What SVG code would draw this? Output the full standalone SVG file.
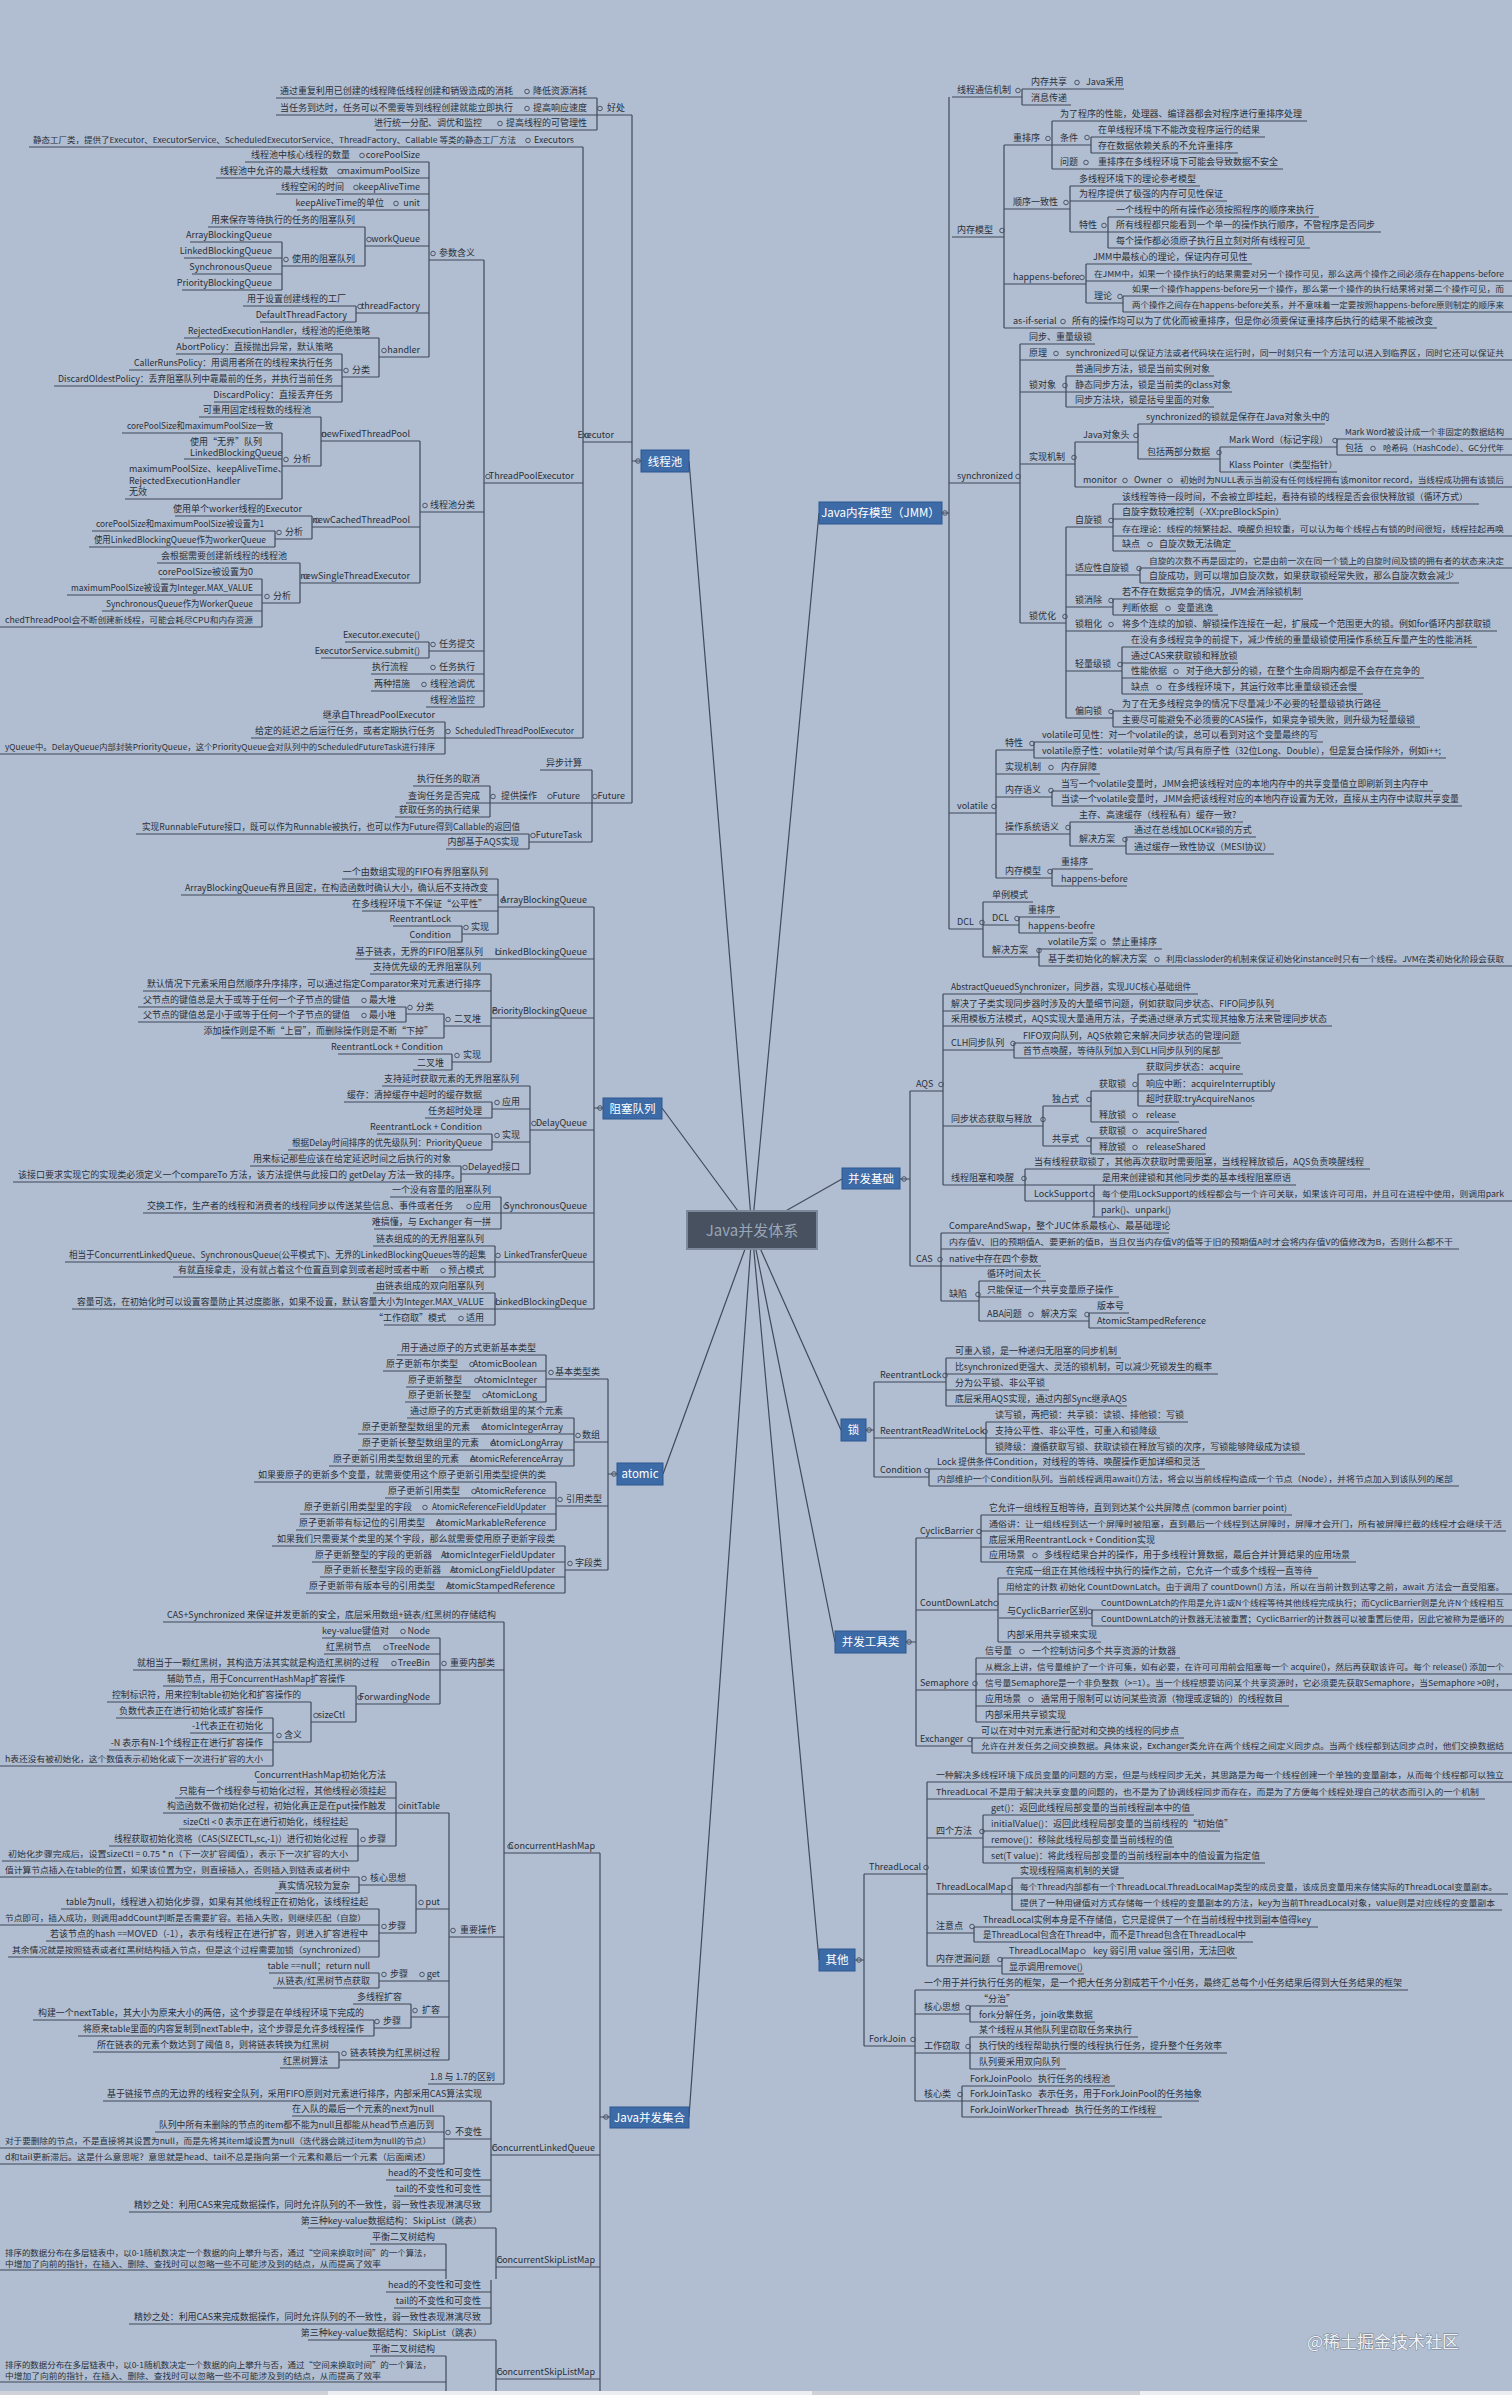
<svg xmlns="http://www.w3.org/2000/svg" width="1512" height="2395" viewBox="0 0 1512 2395">
<style>
.t{font-family:"Noto Sans CJK SC","Noto Sans",sans-serif;font-size:9px;fill:#28303b}
.s{font-size:8.2px}
.x{font-size:7.8px}
.e{text-anchor:end}
.c{fill:none;stroke:#3f4a5a;stroke-width:.9}
.ln{fill:none;stroke:#3f4a5a;stroke-width:1.2}
.nb{fill:#3d6ba8;stroke:#2c5890;stroke-width:1}
.nt{font-family:"Noto Sans CJK SC",sans-serif;font-size:11.5px;fill:#fff;text-anchor:middle}
</style>
<rect width="1512" height="2395" fill="#b1bdd0"/>
<g id="connectors">
<path class="ln" d="M689 461L752 1230M662 1108L752 1230M663 1474L752 1230M689 2117L752 1230M819 513L752 1230M842 1179L752 1230M841 1430L752 1230M835 1642L752 1230M819 1960L752 1230"/>
<path class="ln" d="M276 98H597M276 115H632M376 130H597M597 98V130M29 147H583M245 162H429M216 178H429M276 194H429M297 210H429M208 227H365M190 242H282M365 246H429M184 258H282M282 266H365M192 274H282M182 290H282M282 242V290M365 227V266M243 306H356M356 313H429M260 322H356M356 306V322M184 338H379M176 354H342M379 357H429M129 370H342M342 377H379M54 386H342M214 402H342M342 354V402M379 338V377M429 260H484M429 162V357M199 417H321M122 433H282M321 441H420M184 459H282M282 466H321M125 499H282M282 433V499M321 417V466M175 516H312M312 527H420M92 531H275M275 539H312M89 547H275M275 531V547M312 516V539M157 563H300M160 579H262M300 583H420M67 595H262M262 603H300M102 611H262M0 627H262M262 579V627M300 563V603M420 512H484M420 441V583M345 642H429M429 651H484M321 658H429M429 642V658M371 674H484M371 691H484M426 707H484M484 483H583M484 260V707M328 722H445M251 738H583M0 754H445M445 722V754M583 442H632M583 147V738M540 770H592M413 786H490M406 803H632M395 817H490M490 786V817M136 834H529M529 842H592M446 849H529M529 834V849M592 770V842M632 115V803M632 461H641"/>
<path class="ln" d="M342 879H498M181 895H498M498 907H594M362 911H498M393 926H462M462 934H498M410 942H462M462 926V942M498 879V934M355 959H594M370 974H491M143 991H491M138 1007H406M406 1014H444M491 1018H594M138 1022H406M444 1026H491M221 1038H444M338 1054H452M452 1062H491M413 1070H452M406 1007V1022M444 1014V1038M452 1054V1070M491 974V1062M382 1086H530M344 1102H492M492 1109H530M425 1118H492M530 1130H594M377 1134H492M492 1142H530M288 1150H492M250 1166H461M461 1174H530M13 1182H461M492 1102V1118M492 1134V1150M461 1166V1182M530 1086V1174M390 1197H501M143 1213H594M374 1229H501M501 1197V1229M373 1246H495M65 1262H594M173 1277H495M495 1246V1277M373 1293H495M72 1309H594M384 1325H495M495 1293V1325M594 907V1309M594 1108H603"/>
<path class="ln" d="M397 1355H546M383 1371H546M546 1379H608M406 1387H546M405 1402H546M546 1355V1402M407 1418H574M358 1434H574M574 1442H608M358 1450H574M329 1466H574M574 1418V1466M254 1482H556M385 1498H556M556 1506H608M300 1514H556M296 1530H556M556 1482V1530M272 1546H565M312 1562H565M565 1570H608M320 1577H565M306 1593H565M565 1546V1593M608 1379V1570M608 1474H617"/>
<path class="ln" d="M163 1622H504M322 1638H440M324 1654H440M133 1670H504M163 1686H356M107 1702H311M356 1704H440M116 1718H273M311 1722H356M190 1733H273M273 1742H311M109 1750H273M0 1766H273M273 1718V1766M311 1702V1742M356 1686V1722M440 1638V1704M257 1782H396M175 1798H396M163 1813H449M179 1829H358M109 1846H396M2 1861H358M358 1829V1861M396 1782V1846M0 1877H359M359 1885H416M275 1893H359M359 1877V1893M61 1909H379M416 1909H449M0 1925H379M379 1933H416M46 1941H379M8 1957H379M379 1909V1957M416 1885V1933M449 1937H504M269 1973H379M379 1981H449M273 1988H379M379 1973V1988M353 2004H411M411 2017H449M33 2020H374M374 2028H411M78 2036H374M374 2020V2036M411 2004V2028M93 2052H339M339 2060H449M280 2068H339M339 2052V2068M449 1813V2060M428 2084H504M504 1853H600M504 1622V2084M103 2101H491M292 2116H444M155 2132H444M444 2139H491M0 2148H444M0 2164H444M444 2116V2164M491 2155H600M386 2180H491M394 2196H491M129 2212H491M491 2101V2212M308 2228H496M370 2244H446M0 2270H446M446 2244V2280M496 2267H600M496 2228V2280M600 1853V2280M600 2117H610"/>
<path class="ln" d="M1022 89H1124M952 97H1022M1022 105H1071M1022 89V105M1052 121H1307M1091 137H1265M1004 145H1091M1091 153H1238M1091 137V153M1052 169H1283M1052 121V169M1070 186H1200M1070 201H1227M1004 209H1070M1108 217H1319M1070 232H1381M1108 248H1310M1108 217V248M1070 186V232M952 237H1004M1086 264H1252M1086 281H1512M1004 284H1086M1123 296H1512M1086 303H1123M1123 312H1512M1123 296V312M1086 264V303M1004 328H1437M1004 145V328M1020 344H1095M1020 360H1512M1066 376H1214M1020 392H1232M1066 407H1214M1066 376V407M1138 424H1325M1337 439H1512M1075 442H1138M1220 447H1337M1337 455H1512M1337 439V455M1138 459H1220M1020 464H1075M1220 472H1337M1220 447V472M1138 424V459M949 483H1020M1075 487H1512M1075 442V487M1113 504H1479M1113 519H1281M1066 527H1113M1113 536H1512M1113 551H1236M1113 504V551M1140 568H1512M1066 575H1140M1140 583H1459M1140 568V583M1113 599H1303M1066 607H1113M1113 615H1218M1113 599V615M1020 623H1066M1066 631H1497M1122 647H1477M1122 663H1238M1066 671H1122M1122 678H1424M1122 694H1363M1122 647V694M1113 711H1388M1066 718H1113M1113 727H1420M1113 711V727M1066 527V718M1020 344V623M1034 742H1323M996 750H1034M1034 758H1446M1034 742V758M996 774H1100M1052 791H1433M996 797H1052M1052 806H1462M1052 791V806M949 813H996M1070 822H1243M996 834H1070M1126 837H1256M1070 846H1126M1126 854H1274M1126 837V854M1070 822V846M1052 869H1093M996 878H1052M1052 886H1127M1052 869V886M996 750V878M983 902H1033M1019 917H1060M983 925H1019M949 929H983M1019 933H1093M1019 917V933M1039 949H1162M983 957H1039M1039 966H1512M1039 949V966M983 902V957M949 97V929M942 513H949"/>
<path class="ln" d="M943 994H1198M943 1011H1280M943 1026H1332M1014 1043H1241M943 1050H1014M1014 1058H1223M1014 1043V1058M1138 1074H1243M910 1091H943M1091 1091H1272M1043 1106H1091M1138 1106H1252M1138 1074V1106M1091 1122H1179M1091 1091V1122M943 1126H1043M1091 1138H1206M1043 1146H1091M1091 1154H1206M1091 1138V1154M1043 1106V1146M1025 1169H1370M943 1185H1296M1025 1201H1512M1092 1217H1169M1094 1185V1217M1025 1169V1201M943 994V1185M941 1233H1169M941 1249H1459M910 1266H1041M979 1281H1046M979 1297H1119M941 1301H979M1089 1313H1129M979 1321H1089M1089 1328H1200M1089 1313V1328M979 1281V1321M941 1233V1301M910 1091V1266M900 1179H910"/>
<path class="ln" d="M946 1358H1121M946 1374H1218M874 1382H946M946 1390H1049M946 1406H1127M946 1358V1406M986 1422H1188M874 1438H1160M986 1454H1305M986 1422V1454M929 1469H1205M874 1477H929M929 1486H1459M929 1469V1486M874 1382V1477M866 1430H874"/>
<path class="ln" d="M981 1515H1292M981 1531H1506M916 1538H981M981 1547H1149M981 1562H1356M981 1515V1562M998 1578H1318M998 1594H1512M916 1610H998M1092 1610H1512M999 1618H1092M1092 1626H1512M1092 1610V1626M998 1642H1101M998 1578V1642M976 1658H1180M976 1674H1512M916 1690H1512M976 1706H1289M976 1722H1070M976 1658V1722M972 1738H1184M916 1746H972M972 1753H1512M972 1738V1753M916 1538V1746M906 1642H916"/>
<path class="ln" d="M927 1782H1512M927 1799H1485M983 1815H1194M983 1831H1220M927 1838H983M983 1847H1174M983 1863H1265M983 1815V1863M864 1874H927M1012 1878H1124M927 1894H1508M1012 1910H1502M1012 1878V1910M974 1927H1318M927 1933H974M974 1942H1253M974 1927V1942M1002 1958H1237M927 1966H1002M1002 1974H1084M1002 1958V1974M927 1782V1966M915 1990H1408M970 2006H1008M915 2014H970M970 2022H1095M970 2006V2022M970 2037H1138M864 2046H915M915 2053H1227M970 2069H1066M970 2037V2069M962 2086H1115M915 2101H1199M962 2117H1162M962 2086V2117M915 1990V2101M864 1874V2046M855 1960H864"/>
</g>
<g id="branch-threadpool">
<text class="t e" x="513" y="94" textLength="233" lengthAdjust="spacingAndGlyphs">通过重复利用已创建的线程降低线程创建和销毁造成的消耗</text>
<text class="t e" x="587" y="94">降低资源消耗</text>
<text class="t e" x="513" y="111" textLength="233" lengthAdjust="spacingAndGlyphs">当任务到达时，任务可以不需要等到线程创建就能立即执行</text>
<text class="t e" x="587" y="111">提高响应速度</text>
<text class="t e" x="625" y="111">好处</text>
<text class="t e" x="482" y="126">进行统一分配、调优和监控</text>
<text class="t e" x="587" y="126">提高线程的可管理性</text>
<text class="t x e" x="516" y="143" textLength="483" lengthAdjust="spacingAndGlyphs">静态工厂类，提供了Executor、ExecutorService、ScheduledExecutorService、ThreadFactory、Callable 等类的静态工厂方法</text>
<text class="t e" x="574" y="143" textLength="40" lengthAdjust="spacingAndGlyphs">Executors</text>
<text class="t e" x="350" y="158">线程池中核心线程的数量</text>
<text class="t e" x="420" y="158">corePoolSize</text>
<text class="t e" x="328" y="174">线程池中允许的最大线程数</text>
<text class="t e" x="420" y="174">maximumPoolSize</text>
<text class="t e" x="344" y="190">线程空闲的时间</text>
<text class="t e" x="420" y="190">keepAliveTime</text>
<text class="t e" x="384" y="206">keepAliveTime的单位</text>
<text class="t e" x="420" y="206">unit</text>
<text class="t e" x="355" y="223">用来保存等待执行的任务的阻塞队列</text>
<text class="t e" x="272" y="238">ArrayBlockingQueue</text>
<text class="t e" x="420" y="242">workQueue</text>
<text class="t e" x="272" y="254">LinkedBlockingQueue</text>
<text class="t e" x="355" y="262">使用的阻塞队列</text>
<text class="t e" x="272" y="270">SynchronousQueue</text>
<text class="t e" x="272" y="286">PriorityBlockingQueue</text>
<text class="t e" x="346" y="302">用于设置创建线程的工厂</text>
<text class="t e" x="420" y="309">threadFactory</text>
<text class="t e" x="347" y="318">DefaultThreadFactory</text>
<text class="t e" x="370" y="334" textLength="182" lengthAdjust="spacingAndGlyphs">RejectedExecutionHandler，线程池的拒绝策略</text>
<text class="t e" x="333" y="350">AbortPolicy：直接抛出异常，默认策略</text>
<text class="t e" x="420" y="353">handler</text>
<text class="t e" x="333" y="366" textLength="199" lengthAdjust="spacingAndGlyphs">CallerRunsPolicy：用调用者所在的线程来执行任务</text>
<text class="t e" x="370" y="373">分类</text>
<text class="t e" x="333" y="382" textLength="275" lengthAdjust="spacingAndGlyphs">DiscardOldestPolicy：丢弃阻塞队列中靠最前的任务，并执行当前任务</text>
<text class="t e" x="333" y="398">DiscardPolicy：直接丢弃任务</text>
<text class="t e" x="475" y="256">参数含义</text>
<text class="t e" x="311" y="413">可重用固定线程数的线程池</text>
<text class="t e" x="273" y="429" textLength="146" lengthAdjust="spacingAndGlyphs">corePoolSize和maximumPoolSize一致</text>
<text class="t e" x="410" y="437">newFixedThreadPool</text>
<text class="t" x="190" y="445">使用“无界”队列</text>
<text class="t" x="190" y="456">LinkedBlockingQueue</text>
<text class="t e" x="311" y="462">分析</text>
<text class="t" x="129" y="472">maximumPoolSize、keepAliveTime、</text>
<text class="t" x="129" y="484">RejectedExecutionHandler</text>
<text class="t" x="129" y="495">无效</text>
<text class="t e" x="302" y="512">使用单个worker线程的Executor</text>
<text class="t e" x="410" y="523">newCachedThreadPool</text>
<text class="t e" x="264" y="527" textLength="168" lengthAdjust="spacingAndGlyphs">corePoolSize和maximumPoolSize被设置为1</text>
<text class="t e" x="303" y="535">分析</text>
<text class="t e" x="266" y="543" textLength="172" lengthAdjust="spacingAndGlyphs">使用LinkedBlockingQueue作为workerQueue</text>
<text class="t e" x="287" y="559">会根据需要创建新线程的线程池</text>
<text class="t e" x="253" y="575">corePoolSize被设置为0</text>
<text class="t e" x="410" y="579">newSingleThreadExecutor</text>
<text class="t e" x="253" y="591" textLength="182" lengthAdjust="spacingAndGlyphs">maximumPoolSize被设置为Integer.MAX_VALUE</text>
<text class="t e" x="291" y="599">分析</text>
<text class="t e" x="253" y="607" textLength="147" lengthAdjust="spacingAndGlyphs">SynchronousQueue作为WorkerQueue</text>
<text class="t s e" x="253" y="623" textLength="248" lengthAdjust="spacingAndGlyphs">chedThreadPool会不断创建新线程，可能会耗尽CPU和内存资源</text>
<text class="t e" x="475" y="508">线程池分类</text>
<text class="t e" x="420" y="638">Executor.execute()</text>
<text class="t e" x="475" y="647">任务提交</text>
<text class="t e" x="420" y="654">ExecutorService.submit()</text>
<text class="t e" x="408" y="670">执行流程</text>
<text class="t e" x="475" y="670">任务执行</text>
<text class="t e" x="410" y="687">两种措施</text>
<text class="t e" x="475" y="687">线程池调优</text>
<text class="t e" x="475" y="703">线程池监控</text>
<text class="t e" x="574" y="479">ThreadPoolExecutor</text>
<text class="t e" x="435" y="718">继承自ThreadPoolExecutor</text>
<text class="t e" x="435" y="734">给定的延迟之后运行任务，或者定期执行任务</text>
<text class="t e" x="574" y="734" textLength="119" lengthAdjust="spacingAndGlyphs">ScheduledThreadPoolExecutor</text>
<text class="t s e" x="435" y="750" textLength="430" lengthAdjust="spacingAndGlyphs">yQueue中。DelayQueue内部封装PriorityQueue，这个PriorityQueue会对队列中的ScheduledFutureTask进行排序</text>
<text class="t e" x="614" y="438">Executor</text>
<text class="t e" x="582" y="766">异步计算</text>
<text class="t e" x="480" y="782">执行任务的取消</text>
<text class="t e" x="480" y="799">查询任务是否完成</text>
<text class="t e" x="537" y="799">提供操作</text>
<text class="t e" x="580" y="799">Future</text>
<text class="t e" x="625" y="799">Future</text>
<text class="t e" x="480" y="813">获取任务的执行结果</text>
<text class="t e" x="520" y="830" textLength="378" lengthAdjust="spacingAndGlyphs">实现RunnableFuture接口，既可以作为Runnable被执行，也可以作为Future得到Callable的返回值</text>
<text class="t e" x="582" y="838">FutureTask</text>
<text class="t e" x="519" y="845">内部基于AQS实现</text>
<circle class="c" cx="527" cy="91.5" r="2.3"/><circle class="c" cx="527" cy="108.5" r="2.3"/><circle class="c" cx="600" cy="108.5" r="2.3"/><circle class="c" cx="500" cy="123.5" r="2.3"/><circle class="c" cx="528" cy="140.5" r="2.3"/><circle class="c" cx="362" cy="155.5" r="2.3"/><circle class="c" cx="340" cy="171.5" r="2.3"/><circle class="c" cx="356" cy="187.5" r="2.3"/><circle class="c" cx="396" cy="203.5" r="2.3"/><circle class="c" cx="369" cy="239.5" r="2.3"/><circle class="c" cx="286" cy="259.5" r="2.3"/><circle class="c" cx="360" cy="306.5" r="2.3"/><circle class="c" cx="384" cy="350.5" r="2.3"/><circle class="c" cx="346" cy="370.5" r="2.3"/><circle class="c" cx="433" cy="253.5" r="2.3"/><circle class="c" cx="324" cy="434.5" r="2.3"/><circle class="c" cx="286" cy="459.5" r="2.3"/><circle class="c" cx="317" cy="520.5" r="2.3"/><circle class="c" cx="279" cy="532.5" r="2.3"/><circle class="c" cx="306" cy="576.5" r="2.3"/><circle class="c" cx="267" cy="596.5" r="2.3"/><circle class="c" cx="425" cy="505.5" r="2.3"/><circle class="c" cx="433" cy="644.5" r="2.3"/><circle class="c" cx="433" cy="667.5" r="2.3"/><circle class="c" cx="424" cy="684.5" r="2.3"/><circle class="c" cx="488" cy="476.5" r="2.3"/><circle class="c" cx="448" cy="731.5" r="2.3"/><circle class="c" cx="587" cy="435.5" r="2.3"/><circle class="c" cx="493" cy="796.5" r="2.3"/><circle class="c" cx="550" cy="796.5" r="2.3"/><circle class="c" cx="595" cy="796.5" r="2.3"/><circle class="c" cx="533" cy="835.5" r="2.3"/>
</g>
<g id="branch-queue">
<text class="t e" x="488" y="875">一个由数组实现的FIFO有界阻塞队列</text>
<text class="t e" x="488" y="891" textLength="303" lengthAdjust="spacingAndGlyphs">ArrayBlockingQueue有界且固定，在构造函数时确认大小，确认后不支持改变</text>
<text class="t e" x="587" y="903">ArrayBlockingQueue</text>
<text class="t e" x="487" y="907">在多线程环境下不保证“公平性”</text>
<text class="t e" x="451" y="922">ReentrantLock</text>
<text class="t e" x="489" y="930">实现</text>
<text class="t e" x="451" y="938">Condition</text>
<text class="t e" x="483" y="955">基于链表，无界的FIFO阻塞队列</text>
<text class="t e" x="587" y="955">LinkedBlockingQueue</text>
<text class="t e" x="481" y="970">支持优先级的无界阻塞队列</text>
<text class="t e" x="481" y="987" textLength="334" lengthAdjust="spacingAndGlyphs">默认情况下元素采用自然顺序升序排序，可以通过指定Comparator来对元素进行排序</text>
<text class="t e" x="350" y="1003">父节点的键值总是大于或等于任何一个子节点的键值</text>
<text class="t e" x="396" y="1003">最大堆</text>
<text class="t e" x="434" y="1010">分类</text>
<text class="t e" x="587" y="1014">PriorityBlockingQueue</text>
<text class="t e" x="350" y="1018">父节点的键值总是小于或等于任何一个子节点的键值</text>
<text class="t e" x="396" y="1018">最小堆</text>
<text class="t e" x="481" y="1022">二叉堆</text>
<text class="t e" x="433" y="1034">添加操作则是不断“上冒”，而删除操作则是不断“下掉”</text>
<text class="t e" x="443" y="1050">ReentrantLock + Condition</text>
<text class="t e" x="481" y="1058">实现</text>
<text class="t e" x="444" y="1066">二叉堆</text>
<text class="t e" x="519" y="1082">支持延时获取元素的无界阻塞队列</text>
<text class="t e" x="482" y="1098">缓存：清掉缓存中超时的缓存数据</text>
<text class="t e" x="520" y="1105">应用</text>
<text class="t e" x="482" y="1114">任务超时处理</text>
<text class="t e" x="587" y="1126">DelayQueue</text>
<text class="t e" x="482" y="1130">ReentrantLock + Condition</text>
<text class="t e" x="520" y="1138">实现</text>
<text class="t e" x="482" y="1146" textLength="190" lengthAdjust="spacingAndGlyphs">根据Delay时间排序的优先级队列：PriorityQueue</text>
<text class="t e" x="451" y="1162">用来标记那些应该在给定延迟时间之后执行的对象</text>
<text class="t e" x="520" y="1170">Delayed接口</text>
<text class="t e" x="460" y="1178" textLength="442" lengthAdjust="spacingAndGlyphs">该接口要求实现它的实现类必须定义一个compareTo 方法，该方法提供与此接口的 getDelay 方法一致的排序。</text>
<text class="t e" x="491" y="1193">一个没有容量的阻塞队列</text>
<text class="t e" x="453" y="1209" textLength="306" lengthAdjust="spacingAndGlyphs">交换工作，生产者的线程和消费者的线程同步以传送某些信息、事件或者任务</text>
<text class="t e" x="491" y="1209">应用</text>
<text class="t e" x="587" y="1209">SynchronousQueue</text>
<text class="t e" x="491" y="1225">难搞懂，与 Exchanger 有一拼</text>
<text class="t e" x="484" y="1242">链表组成的的无界阻塞队列</text>
<text class="t e" x="486" y="1258" textLength="417" lengthAdjust="spacingAndGlyphs">相当于ConcurrentLinkedQueue、SynchronousQueue(公平模式下)、无界的LinkedBlockingQueues等的超集</text>
<text class="t e" x="587" y="1258" textLength="83" lengthAdjust="spacingAndGlyphs">LinkedTransferQueue</text>
<text class="t e" x="429" y="1273" textLength="251" lengthAdjust="spacingAndGlyphs">有就直接拿走，没有就占着这个位置直到拿到或者超时或者中断</text>
<text class="t e" x="484" y="1273">预占模式</text>
<text class="t e" x="484" y="1289">由链表组成的双向阻塞队列</text>
<text class="t e" x="484" y="1305" textLength="407" lengthAdjust="spacingAndGlyphs">容量可选，在初始化时可以设置容量防止其过度膨胀，如果不设置，默认容量大小为Integer.MAX_VALUE</text>
<text class="t e" x="587" y="1305">LinkedBlockingDeque</text>
<text class="t e" x="446" y="1321">“工作窃取”模式</text>
<text class="t e" x="484" y="1321">适用</text>
<circle class="c" cx="503" cy="900.5" r="2.3"/><circle class="c" cx="466" cy="927.5" r="2.3"/><circle class="c" cx="498" cy="952.5" r="2.3"/><circle class="c" cx="364" cy="1000.5" r="2.3"/><circle class="c" cx="410" cy="1007.5" r="2.3"/><circle class="c" cx="495" cy="1011.5" r="2.3"/><circle class="c" cx="364" cy="1015.5" r="2.3"/><circle class="c" cx="448" cy="1019.5" r="2.3"/><circle class="c" cx="457" cy="1055.5" r="2.3"/><circle class="c" cx="497" cy="1102.5" r="2.3"/><circle class="c" cx="534" cy="1123.5" r="2.3"/><circle class="c" cx="497" cy="1135.5" r="2.3"/><circle class="c" cx="465" cy="1167.5" r="2.3"/><circle class="c" cx="469" cy="1206.5" r="2.3"/><circle class="c" cx="506" cy="1206.5" r="2.3"/><circle class="c" cx="498" cy="1255.5" r="2.3"/><circle class="c" cx="443" cy="1270.5" r="2.3"/><circle class="c" cx="498" cy="1302.5" r="2.3"/><circle class="c" cx="461" cy="1318.5" r="2.3"/>
</g>
<g id="branch-atomic">
<text class="t e" x="536" y="1351">用于通过原子的方式更新基本类型</text>
<text class="t e" x="458" y="1367">原子更新布尔类型</text>
<text class="t e" x="537" y="1367">AtomicBoolean</text>
<text class="t e" x="600" y="1375">基本类型类</text>
<text class="t e" x="462" y="1383">原子更新整型</text>
<text class="t e" x="537" y="1383">AtomicInteger</text>
<text class="t e" x="471" y="1398">原子更新长整型</text>
<text class="t e" x="537" y="1398">AtomicLong</text>
<text class="t e" x="563" y="1414">通过原子的方式更新数组里的某个元素</text>
<text class="t e" x="470" y="1430">原子更新整型数组里的元素</text>
<text class="t e" x="563" y="1430">AtomicIntegerArray</text>
<text class="t e" x="600" y="1438">数组</text>
<text class="t e" x="479" y="1446">原子更新长整型数组里的元素</text>
<text class="t e" x="563" y="1446">AtomicLongArray</text>
<text class="t e" x="459" y="1462">原子更新引用类型数组里的元素</text>
<text class="t e" x="563" y="1462">AtomicReferenceArray</text>
<text class="t e" x="546" y="1478" textLength="288" lengthAdjust="spacingAndGlyphs">如果要原子的更新多个变量，就需要使用这个原子更新引用类型提供的类</text>
<text class="t e" x="460" y="1494">原子更新引用类型</text>
<text class="t e" x="546" y="1494">AtomicReference</text>
<text class="t e" x="602" y="1502">引用类型</text>
<text class="t e" x="412" y="1510">原子更新引用类型里的字段</text>
<text class="t e" x="546" y="1510" textLength="114" lengthAdjust="spacingAndGlyphs">AtomicReferenceFieldUpdater</text>
<text class="t e" x="425" y="1526">原子更新带有标记位的引用类型</text>
<text class="t e" x="546" y="1526">AtomicMarkableReference</text>
<text class="t e" x="555" y="1542" textLength="278" lengthAdjust="spacingAndGlyphs">如果我们只需要某个类里的某个字段，那么就需要使用原子更新字段类</text>
<text class="t e" x="432" y="1558">原子更新整型的字段的更新器</text>
<text class="t e" x="555" y="1558">AtomicIntegerFieldUpdater</text>
<text class="t e" x="602" y="1566">字段类</text>
<text class="t e" x="441" y="1573">原子更新长整型字段的更新器</text>
<text class="t e" x="555" y="1573">AtomicLongFieldUpdater</text>
<text class="t e" x="435" y="1589">原子更新带有版本号的引用类型</text>
<text class="t e" x="555" y="1589">AtomicStampedReference</text>
<circle class="c" cx="472" cy="1364.5" r="2.3"/><circle class="c" cx="551" cy="1372.5" r="2.3"/><circle class="c" cx="477" cy="1380.5" r="2.3"/><circle class="c" cx="485" cy="1395.5" r="2.3"/><circle class="c" cx="484" cy="1427.5" r="2.3"/><circle class="c" cx="578" cy="1435.5" r="2.3"/><circle class="c" cx="493" cy="1443.5" r="2.3"/><circle class="c" cx="473" cy="1459.5" r="2.3"/><circle class="c" cx="474" cy="1491.5" r="2.3"/><circle class="c" cx="560" cy="1499.5" r="2.3"/><circle class="c" cx="425" cy="1507.5" r="2.3"/><circle class="c" cx="439" cy="1523.5" r="2.3"/><circle class="c" cx="446" cy="1555.5" r="2.3"/><circle class="c" cx="570" cy="1563.5" r="2.3"/><circle class="c" cx="454" cy="1570.5" r="2.3"/><circle class="c" cx="450" cy="1586.5" r="2.3"/>
</g>
<g id="branch-collections">
<text class="t e" x="496" y="1618" textLength="329" lengthAdjust="spacingAndGlyphs">CAS+Synchronized 来保证并发更新的安全，底层采用数组+链表/红黑树的存储结构</text>
<text class="t e" x="389" y="1634">key-value键值对</text>
<text class="t e" x="430" y="1634">Node</text>
<text class="t e" x="371" y="1650">红黑树节点</text>
<text class="t e" x="430" y="1650">TreeNode</text>
<text class="t e" x="379" y="1666" textLength="242" lengthAdjust="spacingAndGlyphs">就相当于一颗红黑树，其构造方法其实就是构造红黑树的过程</text>
<text class="t e" x="430" y="1666">TreeBin</text>
<text class="t e" x="495" y="1666">重要内部类</text>
<text class="t e" x="345" y="1682" textLength="178" lengthAdjust="spacingAndGlyphs">辅助节点，用于ConcurrentHashMap扩容操作</text>
<text class="t e" x="301" y="1698" textLength="189" lengthAdjust="spacingAndGlyphs">控制标识符，用来控制table初始化和扩容操作的</text>
<text class="t e" x="430" y="1700">ForwardingNode</text>
<text class="t e" x="263" y="1714">负数代表正在进行初始化或扩容操作</text>
<text class="t e" x="345" y="1718">sizeCtl</text>
<text class="t e" x="263" y="1729">-1代表正在初始化</text>
<text class="t e" x="302" y="1738">含义</text>
<text class="t e" x="263" y="1746">-N 表示有N-1个线程正在进行扩容操作</text>
<text class="t s e" x="263" y="1762" textLength="258" lengthAdjust="spacingAndGlyphs">h表还没有被初始化，这个数值表示初始化或下一次进行扩容的大小</text>
<text class="t e" x="386" y="1778">ConcurrentHashMap初始化方法</text>
<text class="t e" x="386" y="1794">只能有一个线程参与初始化过程，其他线程必须挂起</text>
<text class="t e" x="386" y="1809" textLength="219" lengthAdjust="spacingAndGlyphs">构造函数不做初始化过程，初始化真正是在put操作触发</text>
<text class="t e" x="440" y="1809">initTable</text>
<text class="t e" x="348" y="1825" textLength="165" lengthAdjust="spacingAndGlyphs">sizeCtl &lt; 0 表示正在进行初始化，线程挂起</text>
<text class="t e" x="348" y="1842" textLength="234" lengthAdjust="spacingAndGlyphs">线程获取初始化资格（CAS(SIZECTL,sc,-1)）进行初始化过程</text>
<text class="t e" x="386" y="1842">步骤</text>
<text class="t s e" x="348" y="1857" textLength="340" lengthAdjust="spacingAndGlyphs">初始化步骤完成后，设置sizeCtl = 0.75 * n（下一次扩容阈值），表示下一次扩容的大小</text>
<text class="t s e" x="350" y="1873" textLength="345" lengthAdjust="spacingAndGlyphs">值计算节点插入在table的位置，如果该位置为空，则直接插入，否则插入到链表或者树中</text>
<text class="t e" x="406" y="1881">核心思想</text>
<text class="t e" x="350" y="1889">真实情况较为复杂</text>
<text class="t e" x="368" y="1905" textLength="302" lengthAdjust="spacingAndGlyphs">table为null，线程进入初始化步骤，如果有其他线程正在初始化，该线程挂起</text>
<text class="t e" x="440" y="1905">put</text>
<text class="t s e" x="366" y="1921" textLength="361" lengthAdjust="spacingAndGlyphs">节点即可，插入成功，则调用addCount判断是否需要扩容。若插入失败，则继续匹配（自旋）</text>
<text class="t e" x="406" y="1929">步骤</text>
<text class="t e" x="496" y="1933">重要操作</text>
<text class="t e" x="368" y="1937" textLength="318" lengthAdjust="spacingAndGlyphs">若该节点的hash ==MOVED（-1），表示有线程正在进行扩容，则进入扩容进程中</text>
<text class="t s e" x="366" y="1953" textLength="354" lengthAdjust="spacingAndGlyphs">其余情况就是按照链表或者红黑树结构插入节点，但是这个过程需要加锁（synchronized）</text>
<text class="t e" x="370" y="1969">table ==null；return null</text>
<text class="t e" x="408" y="1977">步骤</text>
<text class="t e" x="440" y="1977">get</text>
<text class="t e" x="370" y="1984">从链表/红黑树节点获取</text>
<text class="t e" x="402" y="2000">多线程扩容</text>
<text class="t e" x="440" y="2013">扩容</text>
<text class="t e" x="364" y="2016" textLength="326" lengthAdjust="spacingAndGlyphs">构建一个nextTable，其大小为原来大小的两倍，这个步骤是在单线程环境下完成的</text>
<text class="t e" x="401" y="2024">步骤</text>
<text class="t e" x="364" y="2032" textLength="281" lengthAdjust="spacingAndGlyphs">将原来table里面的内容复制到nextTable中，这个步骤是允许多线程操作</text>
<text class="t e" x="329" y="2048" textLength="232" lengthAdjust="spacingAndGlyphs">所在链表的元素个数达到了阈值 8，则将链表转换为红黑树</text>
<text class="t e" x="440" y="2056">链表转换为红黑树过程</text>
<text class="t e" x="328" y="2064">红黑树算法</text>
<text class="t e" x="495" y="2080">1.8 与 1.7的区别</text>
<text class="t e" x="595" y="1849">ConcurrentHashMap</text>
<text class="t e" x="482" y="2097" textLength="375" lengthAdjust="spacingAndGlyphs">基于链接节点的无边界的线程安全队列，采用FIFO原则对元素进行排序，内部采用CAS算法实现</text>
<text class="t e" x="434" y="2112">在入队的最后一个元素的next为null</text>
<text class="t e" x="434" y="2128" textLength="275" lengthAdjust="spacingAndGlyphs">队列中所有未删除的节点的item都不能为null且都能从head节点遍历到</text>
<text class="t e" x="482" y="2135">不变性</text>
<text class="t s e" x="431" y="2144" textLength="426" lengthAdjust="spacingAndGlyphs">对于要删除的节点，不是直接将其设置为null，而是先将其item域设置为null（迭代器会跳过item为null的节点）</text>
<text class="t e" x="595" y="2151">ConcurrentLinkedQueue</text>
<text class="t s e" x="431" y="2160" textLength="426" lengthAdjust="spacingAndGlyphs">d和tail更新滞后。这是什么意思呢？意思就是head、tail不总是指向第一个元素和最后一个元素（后面阐述）</text>
<text class="t e" x="481" y="2176">head的不变性和可变性</text>
<text class="t e" x="481" y="2192">tail的不变性和可变性</text>
<text class="t e" x="481" y="2208" textLength="347" lengthAdjust="spacingAndGlyphs">精妙之处：利用CAS来完成数据操作，同时允许队列的不一致性，弱一致性表现淋漓尽致</text>
<text class="t e" x="482" y="2224">第三种key-value数据结构：SkipList（跳表）</text>
<text class="t e" x="435" y="2240">平衡二叉树结构</text>
<text class="t s e" x="431" y="2256" textLength="426" lengthAdjust="spacingAndGlyphs">排序的数据分布在多层链表中，以0-1随机数决定一个数据的向上攀升与否，通过“空间来换取时间”的一个算法，</text>
<text class="t s e" x="381" y="2267" textLength="376" lengthAdjust="spacingAndGlyphs">中增加了向前的指针，在插入、删除、查找时可以忽略一些不可能涉及到的结点，从而提高了效率</text>
<text class="t e" x="595" y="2263">ConcurrentSkipListMap</text>
<circle class="c" cx="403" cy="1631.5" r="2.3"/><circle class="c" cx="386" cy="1647.5" r="2.3"/><circle class="c" cx="394" cy="1663.5" r="2.3"/><circle class="c" cx="444" cy="1663.5" r="2.3"/><circle class="c" cx="360" cy="1697.5" r="2.3"/><circle class="c" cx="316" cy="1715.5" r="2.3"/><circle class="c" cx="279" cy="1735.5" r="2.3"/><circle class="c" cx="401" cy="1806.5" r="2.3"/><circle class="c" cx="363" cy="1839.5" r="2.3"/><circle class="c" cx="364" cy="1878.5" r="2.3"/><circle class="c" cx="421" cy="1902.5" r="2.3"/><circle class="c" cx="384" cy="1926.5" r="2.3"/><circle class="c" cx="453" cy="1930.5" r="2.3"/><circle class="c" cx="384" cy="1974.5" r="2.3"/><circle class="c" cx="422" cy="1974.5" r="2.3"/><circle class="c" cx="415" cy="2010.5" r="2.3"/><circle class="c" cx="377" cy="2021.5" r="2.3"/><circle class="c" cx="344" cy="2053.5" r="2.3"/><circle class="c" cx="510" cy="1846.5" r="2.3"/><circle class="c" cx="448" cy="2132.5" r="2.3"/><circle class="c" cx="495" cy="2148.5" r="2.3"/><circle class="c" cx="500" cy="2260.5" r="2.3"/>
</g>
<g id="overlay-repeat">
<rect x="0" y="2279" width="720" height="113" fill="#b1bdd0"/>
<path class="ln" d="M386 2292H491M394 2308H491M129 2324H491M491 2280V2324M308 2340H496M370 2356H446M0 2382H446M446 2356V2392M496 2379H600M496 2340V2392M600 2279V2392"/>
<text class="t e" x="481" y="2288">head的不变性和可变性</text>
<text class="t e" x="481" y="2304">tail的不变性和可变性</text>
<text class="t e" x="481" y="2320" textLength="347" lengthAdjust="spacingAndGlyphs">精妙之处：利用CAS来完成数据操作，同时允许队列的不一致性，弱一致性表现淋漓尽致</text>
<text class="t e" x="482" y="2336">第三种key-value数据结构：SkipList（跳表）</text>
<text class="t e" x="435" y="2352">平衡二叉树结构</text>
<text class="t s e" x="431" y="2368" textLength="426" lengthAdjust="spacingAndGlyphs">排序的数据分布在多层链表中，以0-1随机数决定一个数据的向上攀升与否，通过“空间来换取时间”的一个算法，</text>
<text class="t s e" x="381" y="2379" textLength="376" lengthAdjust="spacingAndGlyphs">中增加了向前的指针，在插入、删除、查找时可以忽略一些不可能涉及到的结点，从而提高了效率</text>
<text class="t e" x="595" y="2375">ConcurrentSkipListMap</text>
<circle class="c" cx="500" cy="2372.5" r="2.3"/>
</g>
<g id="branch-jmm">
<text class="t" x="1031" y="85">内存共享</text><text class="t" x="1086" y="85">Java采用</text>
<text class="t" x="957" y="93">线程通信机制</text>
<text class="t" x="1031" y="101">消息传递</text>
<text class="t" x="1060" y="117" textLength="242" lengthAdjust="spacingAndGlyphs">为了程序的性能，处理器、编译器都会对程序进行重排序处理</text>
<text class="t" x="1098" y="133">在单线程环境下不能改变程序运行的结果</text>
<text class="t" x="1060" y="141">条件</text><text class="t" x="1013" y="141">重排序</text>
<text class="t" x="1098" y="149">存在数据依赖关系的不允许重排序</text>
<text class="t" x="1060" y="165">问题</text><text class="t" x="1098" y="165">重排序在多线程环境下可能会导致数据不安全</text>
<text class="t" x="1079" y="182">多线程环境下的理论参考模型</text>
<text class="t" x="1079" y="197">为程序提供了极强的内存可见性保证</text>
<text class="t" x="1013" y="205">顺序一致性</text>
<text class="t" x="1116" y="213">一个线程中的所有操作必须按照程序的顺序来执行</text>
<text class="t" x="1079" y="228">特性</text><text class="t" x="1116" y="228" textLength="259" lengthAdjust="spacingAndGlyphs">所有线程都只能看到一个单一的操作执行顺序，不管程序是否同步</text>
<text class="t" x="957" y="233">内存模型</text>
<text class="t" x="1116" y="244">每个操作都必须原子执行且立刻对所有线程可见</text>
<text class="t" x="1093" y="260">JMM中最核心的理论，保证内存可见性</text>
<text class="t s" x="1094" y="277" textLength="410" lengthAdjust="spacingAndGlyphs">在JMM中，如果一个操作执行的结果需要对另一个操作可见，那么这两个操作之间必须存在happens-before</text>
<text class="t" x="1013" y="280">happens-before</text>
<text class="t s" x="1132" y="292" textLength="372" lengthAdjust="spacingAndGlyphs">如果一个操作happens-before另一个操作，那么第一个操作的执行结果将对第二个操作可见，而</text>
<text class="t" x="1094" y="299">理论</text>
<text class="t s" x="1132" y="308" textLength="372" lengthAdjust="spacingAndGlyphs">两个操作之间存在happens-before关系，并不意味着一定要按照happens-before原则制定的顺序来</text>
<text class="t" x="1013" y="324">as-if-serial</text><text class="t" x="1072" y="324" textLength="361" lengthAdjust="spacingAndGlyphs">所有的操作均可以为了优化而被重排序，但是你必须要保证重排序后执行的结果不能被改变</text>
<text class="t" x="1029" y="340">同步、重量级锁</text>
<text class="t" x="1029" y="356">原理</text><text class="t s" x="1066" y="356" textLength="438" lengthAdjust="spacingAndGlyphs">synchronized可以保证方法或者代码块在运行时，同一时刻只有一个方法可以进入到临界区，同时它还可以保证共</text>
<text class="t" x="1075" y="372">普通同步方法，锁是当前实例对象</text>
<text class="t" x="1029" y="388">锁对象</text><text class="t" x="1075" y="388">静态同步方法，锁是当前类的class对象</text>
<text class="t" x="1075" y="403">同步方法块，锁是括号里面的对象</text>
<text class="t" x="1146" y="420">synchronized的锁就是保存在Java对象头中的</text>
<text class="t s" x="1345" y="435" textLength="159" lengthAdjust="spacingAndGlyphs">Mark Word被设计成一个非固定的数据结构</text>
<text class="t" x="1083" y="438">Java对象头</text>
<text class="t" x="1229" y="443">Mark Word（标记字段）</text>
<text class="t" x="1345" y="451">包括</text><text class="t s" x="1383" y="451" textLength="121" lengthAdjust="spacingAndGlyphs">哈希码（HashCode）、GC分代年</text>
<text class="t" x="1147" y="455">包括两部分数据</text>
<text class="t" x="1029" y="460">实现机制</text>
<text class="t" x="1229" y="468">Klass Pointer（类型指针）</text>
<text class="t" x="957" y="479">synchronized</text>
<text class="t" x="1083" y="483">monitor</text><text class="t" x="1134" y="483">Owner</text><text class="t s" x="1180" y="483" textLength="324" lengthAdjust="spacingAndGlyphs">初始时为NULL表示当前没有任何线程拥有该monitor record，当线程成功拥有该锁后</text>
<text class="t" x="1122" y="500" textLength="346" lengthAdjust="spacingAndGlyphs">该线程等待一段时间，不会被立即挂起，看持有锁的线程是否会很快释放锁（循环方式）</text>
<text class="t" x="1122" y="515">自旋字数较难控制（-XX:preBlockSpin）</text>
<text class="t" x="1075" y="523">自旋锁</text>
<text class="t s" x="1122" y="532" textLength="382" lengthAdjust="spacingAndGlyphs">存在理论：线程的频繁挂起、唤醒负担较重，可以认为每个线程占有锁的时间很短，线程挂起再唤</text>
<text class="t" x="1122" y="547">缺点</text><text class="t" x="1159" y="547">自旋次数无法确定</text>
<text class="t s" x="1149" y="564" textLength="355" lengthAdjust="spacingAndGlyphs">自旋的次数不再是固定的，它是由前一次在同一个锁上的自旋时间及锁的拥有者的状态来决定</text>
<text class="t" x="1075" y="571">适应性自旋锁</text>
<text class="t" x="1149" y="579" textLength="305" lengthAdjust="spacingAndGlyphs">自旋成功，则可以增加自旋次数，如果获取锁经常失败，那么自旋次数会减少</text>
<text class="t" x="1122" y="595">若不存在数据竞争的情况，JVM会消除锁机制</text>
<text class="t" x="1075" y="603">锁消除</text>
<text class="t" x="1122" y="611">判断依据</text><text class="t" x="1177" y="611">变量逃逸</text>
<text class="t" x="1029" y="619">锁优化</text>
<text class="t" x="1075" y="627">锁粗化</text><text class="t" x="1122" y="627" textLength="369" lengthAdjust="spacingAndGlyphs">将多个连续的加锁、解锁操作连接在一起，扩展成一个范围更大的锁。例如for循环内部获取锁</text>
<text class="t" x="1131" y="643" textLength="341" lengthAdjust="spacingAndGlyphs">在没有多线程竞争的前提下，减少传统的重量级锁使用操作系统互斥量产生的性能消耗</text>
<text class="t" x="1131" y="659">通过CAS来获取锁和释放锁</text>
<text class="t" x="1075" y="667">轻量级锁</text>
<text class="t" x="1131" y="674">性能依据</text><text class="t" x="1186" y="674">对于绝大部分的锁，在整个生命周期内都是不会存在竞争的</text>
<text class="t" x="1131" y="690">缺点</text><text class="t" x="1168" y="690">在多线程环境下，其运行效率比重量级锁还会慢</text>
<text class="t" x="1122" y="707" textLength="259" lengthAdjust="spacingAndGlyphs">为了在无多线程竞争的情况下尽量减少不必要的轻量级锁执行路径</text>
<text class="t" x="1075" y="714">偏向锁</text>
<text class="t" x="1122" y="723" textLength="293" lengthAdjust="spacingAndGlyphs">主要尽可能避免不必须要的CAS操作，如果竞争锁失败，则升级为轻量级锁</text>
<text class="t" x="1042" y="738" textLength="276" lengthAdjust="spacingAndGlyphs">volatile可见性：对一个volatile的读，总可以看到对这个变量最终的写</text>
<text class="t" x="1005" y="746">特性</text>
<text class="t" x="1042" y="754" textLength="399" lengthAdjust="spacingAndGlyphs">volatile原子性：volatile对单个读/写具有原子性（32位Long、Double），但是复合操作除外，例如i++;</text>
<text class="t" x="1005" y="770">实现机制</text><text class="t" x="1061" y="770">内存屏障</text>
<text class="t" x="1061" y="787" textLength="367" lengthAdjust="spacingAndGlyphs">当写一个volatile变量时，JMM会把该线程对应的本地内存中的共享变量值立即刷新到主内存中</text>
<text class="t" x="1005" y="793">内存语义</text>
<text class="t" x="1061" y="802" textLength="398" lengthAdjust="spacingAndGlyphs">当读一个volatile变量时，JMM会把该线程对应的本地内存设置为无效，直接从主内存中读取共享变量</text>
<text class="t" x="957" y="809">volatile</text>
<text class="t" x="1079" y="818">主存、高速缓存（线程私有）缓存一致?</text>
<text class="t" x="1005" y="830">操作系统语义</text>
<text class="t" x="1134" y="833">通过在总线加LOCK#锁的方式</text>
<text class="t" x="1079" y="842">解决方案</text>
<text class="t" x="1134" y="850">通过缓存一致性协议（MESI协议）</text>
<text class="t" x="1061" y="865">重排序</text>
<text class="t" x="1005" y="874">内存模型</text>
<text class="t" x="1061" y="882">happens-before</text>
<text class="t" x="992" y="898">单例模式</text>
<text class="t" x="1028" y="913">重排序</text>
<text class="t" x="992" y="921">DCL</text>
<text class="t" x="957" y="925">DCL</text>
<text class="t" x="1028" y="929">happens-beofre</text>
<text class="t" x="1048" y="945">volatile方案</text><text class="t" x="1112" y="945">禁止重排序</text>
<text class="t" x="992" y="953">解决方案</text>
<text class="t" x="1048" y="962">基于类初始化的解决方案</text><text class="t s" x="1166" y="962" textLength="338" lengthAdjust="spacingAndGlyphs">利用classloder的机制来保证初始化instance时只有一个线程。JVM在类初始化阶段会获取</text>
<circle class="c" cx="1077" cy="82.5" r="2.3"/><circle class="c" cx="1018" cy="90.5" r="2.3"/><circle class="c" cx="1087" cy="137.5" r="2.3"/><circle class="c" cx="1048" cy="138.5" r="2.3"/><circle class="c" cx="1086" cy="162.5" r="2.3"/><circle class="c" cx="1066" cy="202.5" r="2.3"/><circle class="c" cx="1104" cy="225.5" r="2.3"/><circle class="c" cx="1002" cy="230.5" r="2.3"/><circle class="c" cx="1082" cy="277.5" r="2.3"/><circle class="c" cx="1120" cy="296.5" r="2.3"/><circle class="c" cx="1063" cy="321.5" r="2.3"/><circle class="c" cx="1056" cy="353.5" r="2.3"/><circle class="c" cx="1065" cy="385.5" r="2.3"/><circle class="c" cx="1136" cy="435.5" r="2.3"/><circle class="c" cx="1335" cy="440.5" r="2.3"/><circle class="c" cx="1373" cy="448.5" r="2.3"/><circle class="c" cx="1219" cy="452.5" r="2.3"/><circle class="c" cx="1074" cy="457.5" r="2.3"/><circle class="c" cx="1018" cy="476.5" r="2.3"/><circle class="c" cx="1125" cy="480.5" r="2.3"/><circle class="c" cx="1170" cy="480.5" r="2.3"/><circle class="c" cx="1111" cy="520.5" r="2.3"/><circle class="c" cx="1150" cy="544.5" r="2.3"/><circle class="c" cx="1139" cy="568.5" r="2.3"/><circle class="c" cx="1111" cy="600.5" r="2.3"/><circle class="c" cx="1168" cy="608.5" r="2.3"/><circle class="c" cx="1065" cy="616.5" r="2.3"/><circle class="c" cx="1111" cy="624.5" r="2.3"/><circle class="c" cx="1120" cy="664.5" r="2.3"/><circle class="c" cx="1176" cy="671.5" r="2.3"/><circle class="c" cx="1159" cy="687.5" r="2.3"/><circle class="c" cx="1111" cy="711.5" r="2.3"/><circle class="c" cx="1032" cy="743.5" r="2.3"/><circle class="c" cx="1051" cy="767.5" r="2.3"/><circle class="c" cx="1051" cy="790.5" r="2.3"/><circle class="c" cx="994" cy="806.5" r="2.3"/><circle class="c" cx="1068" cy="827.5" r="2.3"/><circle class="c" cx="1125" cy="839.5" r="2.3"/><circle class="c" cx="1050" cy="871.5" r="2.3"/><circle class="c" cx="1017" cy="918.5" r="2.3"/><circle class="c" cx="982" cy="922.5" r="2.3"/><circle class="c" cx="1103" cy="942.5" r="2.3"/><circle class="c" cx="1039" cy="950.5" r="2.3"/><circle class="c" cx="1157" cy="959.5" r="2.3"/>
</g>
<g id="branch-basics">
<text class="t" x="951" y="990" textLength="240" lengthAdjust="spacingAndGlyphs">AbstractQueuedSynchronizer，同步器，实现JUC核心基础组件</text>
<text class="t" x="951" y="1007" textLength="323" lengthAdjust="spacingAndGlyphs">解决了子类实现同步器时涉及的大量细节问题，例如获取同步状态、FIFO同步队列</text>
<text class="t" x="951" y="1022" textLength="376" lengthAdjust="spacingAndGlyphs">采用模板方法模式，AQS实现大量通用方法，子类通过继承方式实现其抽象方法来管理同步状态</text>
<text class="t" x="1023" y="1039">FIFO双向队列，AQS依赖它来解决同步状态的管理问题</text>
<text class="t" x="951" y="1046">CLH同步队列</text>
<text class="t" x="1023" y="1054">首节点唤醒，等待队列加入到CLH同步队列的尾部</text>
<text class="t" x="1146" y="1070">获取同步状态：acquire</text>
<text class="t" x="916" y="1087">AQS</text><text class="t" x="1099" y="1087">获取锁</text><text class="t" x="1146" y="1087">响应中断：acquireInterruptibly</text>
<text class="t" x="1052" y="1102">独占式</text><text class="t" x="1146" y="1102">超时获取:tryAcquireNanos</text>
<text class="t" x="1099" y="1118">释放锁</text><text class="t" x="1146" y="1118">release</text>
<text class="t" x="951" y="1122">同步状态获取与释放</text>
<text class="t" x="1099" y="1134">获取锁</text><text class="t" x="1146" y="1134">acquireShared</text>
<text class="t" x="1052" y="1142">共享式</text>
<text class="t" x="1099" y="1150">释放锁</text><text class="t" x="1146" y="1150">releaseShared</text>
<text class="t" x="1034" y="1165" textLength="330" lengthAdjust="spacingAndGlyphs">当有线程获取锁了，其他再次获取时需要阻塞，当线程释放锁后，AQS负责唤醒线程</text>
<text class="t" x="951" y="1181">线程阻塞和唤醒</text><text class="t" x="1102" y="1181">是用来创建锁和其他同步类的基本线程阻塞原语</text>
<text class="t" x="1034" y="1197">LockSupport</text><text class="t s" x="1102" y="1197" textLength="402" lengthAdjust="spacingAndGlyphs">每个使用LockSupport的线程都会与一个许可关联，如果该许可可用，并且可在进程中使用，则调用park</text>
<text class="t" x="1101" y="1213">park()、unpark()</text>
<text class="t" x="949" y="1229">CompareAndSwap，整个JUC体系最核心、最基础理论</text>
<text class="t s" x="949" y="1245" textLength="504" lengthAdjust="spacingAndGlyphs">内存值V、旧的预期值A、要更新的值B，当且仅当内存值V的值等于旧的预期值A时才会将内存值V的值修改为B，否则什么都不干</text>
<text class="t" x="916" y="1262">CAS</text><text class="t" x="949" y="1262">native中存在四个参数</text>
<text class="t" x="987" y="1277">循环时间太长</text>
<text class="t" x="987" y="1293">只能保证一个共享变量原子操作</text>
<text class="t" x="949" y="1297">缺陷</text>
<text class="t" x="1097" y="1309">版本号</text>
<text class="t" x="987" y="1317">ABA问题</text><text class="t" x="1041" y="1317">解决方案</text>
<text class="t" x="1097" y="1324">AtomicStampedReference</text>
<circle class="c" cx="1013" cy="1043.5" r="2.3"/><circle class="c" cx="941" cy="1084.5" r="2.3"/><circle class="c" cx="1135" cy="1084.5" r="2.3"/><circle class="c" cx="1089" cy="1099.5" r="2.3"/><circle class="c" cx="1135" cy="1115.5" r="2.3"/><circle class="c" cx="1043" cy="1119.5" r="2.3"/><circle class="c" cx="1135" cy="1131.5" r="2.3"/><circle class="c" cx="1089" cy="1139.5" r="2.3"/><circle class="c" cx="1135" cy="1147.5" r="2.3"/><circle class="c" cx="1024" cy="1178.5" r="2.3"/><circle class="c" cx="1092" cy="1194.5" r="2.3"/><circle class="c" cx="940" cy="1259.5" r="2.3"/><circle class="c" cx="978" cy="1294.5" r="2.3"/><circle class="c" cx="1031" cy="1314.5" r="2.3"/><circle class="c" cx="1087" cy="1314.5" r="2.3"/>
</g>
<g id="branch-lock">
<text class="t" x="955" y="1354">可重入锁，是一种递归无阻塞的同步机制</text>
<text class="t" x="955" y="1370" textLength="257" lengthAdjust="spacingAndGlyphs">比synchronized更强大、灵活的锁机制，可以减少死锁发生的概率</text>
<text class="t" x="880" y="1378">ReentrantLock</text>
<text class="t" x="955" y="1386">分为公平锁、非公平锁</text>
<text class="t" x="955" y="1402">底层采用AQS实现，通过内部Sync继承AQS</text>
<text class="t" x="995" y="1418">读写锁，两把锁：共享锁：读锁、排他锁：写锁</text>
<text class="t" x="880" y="1434">ReentrantReadWriteLock</text><text class="t" x="995" y="1434">支持公平性、非公平性，可重入和锁降级</text>
<text class="t" x="995" y="1450" textLength="305" lengthAdjust="spacingAndGlyphs">锁降级：遵循获取写锁、获取读锁在释放写锁的次序，写锁能够降级成为读锁</text>
<text class="t" x="937" y="1465" textLength="263" lengthAdjust="spacingAndGlyphs">Lock 提供条件Condition，对线程的等待、唤醒操作更加详细和灵活</text>
<text class="t" x="880" y="1473">Condition</text>
<text class="t s" x="937" y="1482" textLength="516" lengthAdjust="spacingAndGlyphs">内部维护一个Condition队列。当前线程调用await()方法，将会以当前线程构造成一个节点（Node），并将节点加入到该队列的尾部</text>
<circle class="c" cx="945" cy="1375.5" r="2.3"/><circle class="c" cx="985" cy="1431.5" r="2.3"/><circle class="c" cx="927" cy="1470.5" r="2.3"/>
</g>
<g id="branch-tools">
<text class="t" x="989" y="1511" textLength="298" lengthAdjust="spacingAndGlyphs">它允许一组线程互相等待，直到到达某个公共屏障点 (common barrier point)</text>
<text class="t s" x="989" y="1527" textLength="513" lengthAdjust="spacingAndGlyphs">通俗讲：让一组线程到达一个屏障时被阻塞，直到最后一个线程到达屏障时，屏障才会开门，所有被屏障拦截的线程才会继续干活</text>
<text class="t" x="920" y="1534">CyclicBarrier</text>
<text class="t" x="989" y="1543">底层采用ReentrantLock + Condition实现</text>
<text class="t" x="989" y="1558">应用场景</text><text class="t" x="1044" y="1558" textLength="306" lengthAdjust="spacingAndGlyphs">多线程结果合并的操作，用于多线程计算数据，最后合并计算结果的应用场景</text>
<text class="t" x="1006" y="1574" textLength="306" lengthAdjust="spacingAndGlyphs">在完成一组正在其他线程中执行的操作之前，它允许一个或多个线程一直等待</text>
<text class="t s" x="1006" y="1590" textLength="498" lengthAdjust="spacingAndGlyphs">用给定的计数 初始化 CountDownLatch。由于调用了 countDown() 方法，所以在当前计数到达零之前，await 方法会一直受阻塞。</text>
<text class="t" x="920" y="1606">CountDownLatch</text><text class="t s" x="1101" y="1606" textLength="403" lengthAdjust="spacingAndGlyphs">CountDownLatch的作用是允许1或N个线程等待其他线程完成执行；而CyclicBarrier则是允许N个线程相互</text>
<text class="t" x="1007" y="1614">与CyclicBarrier区别</text>
<text class="t s" x="1101" y="1622" textLength="403" lengthAdjust="spacingAndGlyphs">CountDownLatch的计数器无法被重置；CyclicBarrier的计数器可以被重置后使用，因此它被称为是循环的</text>
<text class="t" x="1007" y="1638">内部采用共享锁来实现</text>
<text class="t" x="985" y="1654">信号量</text><text class="t" x="1032" y="1654">一个控制访问多个共享资源的计数器</text>
<text class="t s" x="985" y="1670" textLength="519" lengthAdjust="spacingAndGlyphs">从概念上讲，信号量维护了一个许可集，如有必要，在许可可用前会阻塞每一个 acquire()，然后再获取该许可。每个 release() 添加一个</text>
<text class="t" x="920" y="1686">Semaphore</text><text class="t s" x="985" y="1686" textLength="519" lengthAdjust="spacingAndGlyphs">信号量Semaphore是一个非负整数（&gt;=1）。当一个线程想要访问某个共享资源时，它必须要先获取Semaphore，当Semaphore &gt;0时，</text>
<text class="t" x="985" y="1702">应用场景</text><text class="t" x="1041" y="1702" textLength="242" lengthAdjust="spacingAndGlyphs">通常用于限制可以访问某些资源（物理或逻辑的）的线程数目</text>
<text class="t" x="985" y="1718">内部采用共享锁实现</text>
<text class="t" x="981" y="1734">可以在对中对元素进行配对和交换的线程的同步点</text>
<text class="t" x="920" y="1742">Exchanger</text>
<text class="t s" x="981" y="1749" textLength="523" lengthAdjust="spacingAndGlyphs">允许在并发任务之间交换数据。具体来说，Exchanger类允许在两个线程之间定义同步点。当两个线程都到达同步点时，他们交换数据结</text>
<circle class="c" cx="979" cy="1531.5" r="2.3"/><circle class="c" cx="1035" cy="1555.5" r="2.3"/><circle class="c" cx="996" cy="1603.5" r="2.3"/><circle class="c" cx="1090" cy="1611.5" r="2.3"/><circle class="c" cx="1022" cy="1651.5" r="2.3"/><circle class="c" cx="975" cy="1683.5" r="2.3"/><circle class="c" cx="1031" cy="1699.5" r="2.3"/><circle class="c" cx="970" cy="1739.5" r="2.3"/>
</g>
<g id="branch-other">
<text class="t s" x="936" y="1778" textLength="568" lengthAdjust="spacingAndGlyphs">一种解决多线程环境下成员变量的问题的方案，但是与线程同步无关，其思路是为每一个线程创建一个单独的变量副本，从而每个线程都可以独立</text>
<text class="t s" x="936" y="1795" textLength="543" lengthAdjust="spacingAndGlyphs">ThreadLocal 不是用于解决共享变量的问题的，也不是为了协调线程同步而存在，而是为了方便每个线程处理自己的状态而引入的一个机制</text>
<text class="t" x="991" y="1811">get()：返回此线程局部变量的当前线程副本中的值</text>
<text class="t" x="991" y="1827">initialValue()：返回此线程局部变量的当前线程的“初始值”</text>
<text class="t" x="936" y="1834">四个方法</text>
<text class="t" x="991" y="1843">remove()：移除此线程局部变量当前线程的值</text>
<text class="t" x="991" y="1859" textLength="269" lengthAdjust="spacingAndGlyphs">set(T value)：将此线程局部变量的当前线程副本中的值设置为指定值</text>
<text class="t" x="869" y="1870">ThreadLocal</text>
<text class="t" x="1020" y="1874">实现线程隔离机制的关键</text>
<text class="t" x="936" y="1890">ThreadLocalMap</text><text class="t s" x="1020" y="1890" textLength="477" lengthAdjust="spacingAndGlyphs">每个Thread内部都有一个ThreadLocal.ThreadLocalMap类型的成员变量，该成员变量用来存储实际的ThreadLocal变量副本。</text>
<text class="t s" x="1020" y="1906" textLength="475" lengthAdjust="spacingAndGlyphs">提供了一种用键值对方式存储每一个线程的变量副本的方法，key为当前ThreadLocal对象，value则是对应线程的变量副本</text>
<text class="t" x="983" y="1923" textLength="328" lengthAdjust="spacingAndGlyphs">ThreadLocal实例本身是不存储值，它只是提供了一个在当前线程中找到副本值得key</text>
<text class="t" x="936" y="1929">注意点</text>
<text class="t" x="983" y="1938" textLength="263" lengthAdjust="spacingAndGlyphs">是ThreadLocal包含在Thread中，而不是Thread包含在ThreadLocal中</text>
<text class="t" x="1009" y="1954">ThreadLocalMap</text><text class="t" x="1093" y="1954">key 弱引用 value 强引用，无法回收</text>
<text class="t" x="936" y="1962">内存泄漏问题</text>
<text class="t" x="1009" y="1970">显示调用remove()</text>
<text class="t" x="924" y="1986" textLength="478" lengthAdjust="spacingAndGlyphs">一个用于并行执行任务的框架，是一个把大任务分割成若干个小任务，最终汇总每个小任务结果后得到大任务结果的框架</text>
<text class="t" x="979" y="2002">“分治”</text>
<text class="t" x="924" y="2010">核心思想</text>
<text class="t" x="979" y="2018">fork分解任务，join收集数据</text>
<text class="t" x="979" y="2033">某个线程从其他队列里窃取任务来执行</text>
<text class="t" x="869" y="2042">ForkJoin</text>
<text class="t" x="924" y="2049">工作窃取</text><text class="t" x="979" y="2049">执行快的线程帮助执行慢的线程执行任务，提升整个任务效率</text>
<text class="t" x="979" y="2065">队列要采用双向队列</text>
<text class="t" x="970" y="2082">ForkJoinPool</text><text class="t" x="1038" y="2082">执行任务的线程池</text>
<text class="t" x="924" y="2097">核心类</text><text class="t" x="970" y="2097">ForkJoinTask</text><text class="t" x="1038" y="2097">表示任务，用于ForkJoinPool的任务抽象</text>
<text class="t" x="970" y="2113">ForkJoinWorkerThread</text><text class="t" x="1075" y="2113">执行任务的工作线程</text>
<circle class="c" cx="982" cy="1831.5" r="2.3"/><circle class="c" cx="926" cy="1867.5" r="2.3"/><circle class="c" cx="1010" cy="1887.5" r="2.3"/><circle class="c" cx="972" cy="1926.5" r="2.3"/><circle class="c" cx="1083" cy="1951.5" r="2.3"/><circle class="c" cx="1000" cy="1959.5" r="2.3"/><circle class="c" cx="968" cy="2007.5" r="2.3"/><circle class="c" cx="913" cy="2039.5" r="2.3"/><circle class="c" cx="968" cy="2046.5" r="2.3"/><circle class="c" cx="1029" cy="2079.5" r="2.3"/><circle class="c" cx="1029" cy="2094.5" r="2.3"/><circle class="c" cx="960" cy="2094.5" r="2.3"/><circle class="c" cx="1066" cy="2110.5" r="2.3"/>
</g>
<g id="node-threadpool"><rect class="nb" x="641" y="450" width="48" height="22"/><text class="nt" x="665" y="465.5">线程池</text><circle class="c" cx="638" cy="461" r="2.3"/></g>
<g id="node-queue"><rect class="nb" x="603" y="1098" width="59" height="21"/><text class="nt" x="632.5" y="1113">阻塞队列</text><circle class="c" cx="600" cy="1108" r="2.3"/></g>
<g id="node-atomic"><rect class="nb" x="617" y="1463" width="46" height="22"/><text class="nt" x="640" y="1478">atomic</text><circle class="c" cx="614" cy="1474" r="2.3"/></g>
<g id="node-collections"><rect class="nb" x="610" y="2107" width="79" height="21"/><text class="nt" x="649.5" y="2122">Java并发集合</text><circle class="c" cx="606" cy="2117" r="2.3"/></g>
<g id="node-jmm"><rect class="nb" x="819" y="502" width="123" height="22"/><text class="nt" x="880.5" y="517">Java内存模型（JMM）</text><circle class="c" cx="945" cy="513" r="2.3"/></g>
<g id="node-basics"><rect class="nb" x="842" y="1168" width="58" height="21"/><text class="nt" x="871" y="1183">并发基础</text><circle class="c" cx="904" cy="1179" r="2.3"/></g>
<g id="node-lock"><rect class="nb" x="841" y="1419" width="25" height="22"/><text class="nt" x="853.5" y="1434">锁</text><circle class="c" cx="869" cy="1430" r="2.3"/></g>
<g id="node-tools"><rect class="nb" x="835" y="1631" width="71" height="22"/><text class="nt" x="870.5" y="1646">并发工具类</text><circle class="c" cx="909" cy="1642" r="2.3"/></g>
<g id="node-other"><rect class="nb" x="819" y="1949" width="36" height="22"/><text class="nt" x="837" y="1964">其他</text><circle class="c" cx="859" cy="1960" r="2.3"/></g>
<g id="node-center"><rect x="687" y="1211" width="130" height="38" fill="#47515f" stroke="#7d889a" stroke-width="2"/><text x="752" y="1236" text-anchor="middle" style="font-family:'Noto Sans CJK SC',sans-serif;font-size:15px;fill:#9aa6b8">Java并发体系</text></g>
<text x="1307" y="2348" style="font-family:'Noto Sans CJK SC',sans-serif;font-size:17px;fill:#f0f2f6;stroke:#6f7989;stroke-width:.8;paint-order:stroke">@稀土掘金技术社区</text>
<rect x="0" y="2391" width="1512" height="4" fill="#eceef1"/>
<rect x="0" y="2391" width="328" height="4" fill="#cfd3d9"/>
<rect x="812" y="2391" width="328" height="4" fill="#cfd3d9"/>
</svg>
